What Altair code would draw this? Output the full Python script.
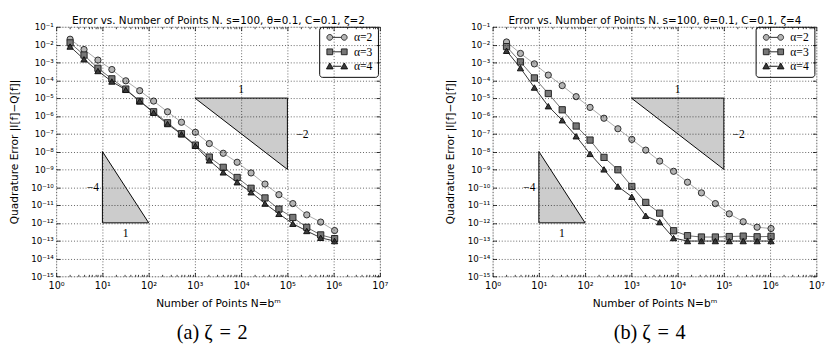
import altair as alt
import pandas as pd

# ---------------- data ----------------
N_vals = [2, 4, 8, 16, 32, 64, 128, 256, 512, 1024, 2048, 4096, 8192, 16384,
          32768, 65536, 131072, 262144, 524288, 1048576]
series_labels = ["α=2", "α=3", "α=4"]

# panel (a) zeta = 2
a2_z2 = [2.0e-2, 5.3e-3, 1.35e-3, 4.0e-4, 9.3e-5, 2.6e-5, 6.8e-6, 1.7e-6, 4.4e-7, 1.2e-7,
         2.8e-8, 8.0e-9, 2.5e-9, 6.3e-10, 1.5e-10, 3.8e-11, 1.2e-11, 2.8e-12, 1.1e-12, 3.7e-13]
a3_z2 = [1.25e-2, 2.6e-3, 4.7e-4, 1.2e-4, 3.2e-5, 6.8e-6, 1.7e-6, 4.1e-7, 1.0e-7, 2.3e-8,
         4.9e-9, 1.3e-9, 3.5e-10, 8.7e-11, 2.5e-11, 5.9e-12, 2.0e-12, 5.6e-13, 2.1e-13, 1.3e-13]
a4_z2 = [7.8e-3, 1.5e-3, 3.3e-4, 8.5e-5, 2.9e-5, 6.8e-6, 1.5e-6, 3.5e-7, 9.3e-8, 2.1e-8,
         3.2e-9, 6.8e-10, 1.9e-10, 5.2e-11, 1.2e-11, 3.2e-12, 8.9e-13, 3.5e-13, 1.45e-13, 9.5e-14]

# panel (b) zeta = 4
a2_z4 = [1.4e-2, 3.2e-3, 8.3e-4, 1.95e-4, 5.0e-5, 1.2e-5, 3.0e-6, 7.4e-7, 1.9e-7, 4.8e-8,
         1.2e-8, 2.9e-9, 7.8e-10, 1.9e-10, 4.8e-11, 1.2e-11, 3.2e-12, 1.15e-12, 5.7e-13, 4.8e-13]
a3_z4 = [7.7e-3, 1.07e-3, 1.35e-4, 1.8e-5, 2.2e-6, 2.7e-7, 4.4e-8, 4.7e-9, 9.5e-10, 1.1e-10,
         1.4e-11, 3.5e-12, 3.6e-13, 1.9e-13, 1.6e-13, 1.6e-13, 1.7e-13, 1.8e-13, 1.65e-13, 1.75e-13]
a4_z4 = [4.5e-3, 4.8e-4, 3.9e-5, 3.5e-6, 5.7e-7, 7.2e-8, 7.4e-9, 1.0e-9, 1.1e-10, 2.9e-11,
         2.5e-12, 1.1e-12, 1.4e-13, 9.5e-14, 9.5e-14, 9.5e-14, 9.5e-14, 9.5e-14, 9.5e-14, 9.5e-14]

# slope triangles (data coordinates)
tri_ids = ["big", "big", "small", "small"]
tri_x = [1e3, 1e5, 10, 100]
tri_top = [1e-5, 1e-5, 1e-8, 1e-12]
tri_bot = [1e-5, 1e-9, 1e-12, 1e-12]

slope_text = ["1", "−2", "−4", "1"]
slope_x = [1e4, 2.1e5, 6.2, 31.6]
slope_y = [3.0e-5, 1e-7, 1e-10, 2.7e-13]

# ticks
x_major = [1, 10, 100, 1e3, 1e4, 1e5, 1e6, 1e7]
x_tick_labels = ["10⁰", "10¹", "10²", "10³", "10⁴", "10⁵", "10⁶", "10⁷"]
x_minor = [k * 10 ** d for d in range(0, 7) for k in range(2, 10)]
y_major = [10.0 ** (-e) for e in range(1, 16)]
y_tick_labels = ["10⁻¹", "10⁻²", "10⁻³", "10⁻⁴", "10⁻⁵", "10⁻⁶", "10⁻⁷", "10⁻⁸",
                 "10⁻⁹", "10⁻¹⁰", "10⁻¹¹", "10⁻¹²", "10⁻¹³", "10⁻¹⁴", "10⁻¹⁵"]

headers = ["Error vs. Number of Points N. s=100, θ=0.1, C=0.1, ζ=2",
           "Error vs. Number of Points N. s=100, θ=0.1, C=0.1, ζ=4"]
captions = ["(a) ζ\u2004=\u20042", "(b) ζ\u2004=\u20044"]

# ---------------- styles ----------------
line_colors = ["#a8a8a8", "#6a6a6a", "#2e2e2e"]
fill_colors = ["#b4b4b4", "#777777", "#3a3a3a"]
edge_colors = ["#2a2a2a", "#222222", "#111111"]
shapes = ["circle", "square", "triangle-up"]


def circ(cx):
    return f"M{cx-1},0A1,1 0 1,1 {cx+1},0A1,1 0 1,1 {cx-1},0Z"


def sq(cx):
    return f"M{cx-1},-1L{cx+1},-1L{cx+1},1L{cx-1},1Z"


def tri(cx):
    return f"M{cx},-1.15L{cx+1.15},0.9L{cx-1.15},0.9Z"


legend_paths = [
    "M1,0L4,0" + circ(0) + circ(5),
    "M1,0L4,0" + sq(0) + sq(5),
    "M1,0L4,0" + tri(0) + tri(5),
]


def arr(lst):
    return "[" + ",".join('"' + s + '"' for s in lst) + "]"


x_label_expr = arr(x_tick_labels) + "[round(log(datum.value)/LN10)]"
y_label_expr = arr(y_tick_labels) + "[-round(log(datum.value)/LN10)-1]"

SANS = "DejaVu Sans"
SERIF = "Liberation Serif"


def tick_axis(orient, values, size):
    return alt.Axis(orient=orient, values=values, labels=False, ticks=True,
                    tickSize=size, offset=-size, domain=False, grid=False,
                    title=None, tickColor="black", tickWidth=0.8, zindex=1)


def make_panel(errs, header, caption, cap_dx):
    df = pd.DataFrame({
        "N": N_vals * 3,
        "err": errs[0] + errs[1] + errs[2],
        "series": [s for s in series_labels for _ in N_vals],
    })
    tri_df = pd.DataFrame({"tri": tri_ids, "x": tri_x, "top": tri_top, "bot": tri_bot})
    lab_df = pd.DataFrame({"x": slope_x, "y": slope_y, "t": slope_text})

    xs = alt.Scale(type="log", domain=[1, 1e7], nice=False)
    ys = alt.Scale(type="log", domain=[1e-15, 1e-1], nice=False)

    main_x = alt.Axis(orient="bottom", values=x_major, labelExpr=x_label_expr,
                      grid=True, gridColor="black", gridDash=[1, 2], gridOpacity=0.8,
                      gridWidth=0.8, ticks=False, domain=False, labelPadding=5,
                      labelFont=SANS, labelFontSize=10, labelColor="black",
                      labelFlush=False,
                      title="Number of Points N=bᵐ", titleFont=SANS, titleFontSize=11,
                      titleFontWeight="normal", titleColor="black", titlePadding=7,
                      zindex=1)
    main_y = alt.Axis(orient="left", values=y_major, labelExpr=y_label_expr,
                      grid=True, gridColor="black", gridDash=[1, 2], gridOpacity=0.8,
                      gridWidth=0.8, ticks=False, domain=False, labelPadding=3,
                      labelFont=SANS, labelFontSize=9, labelColor="black",
                      labelFlush=False,
                      title="Quadrature Error |I[f]−Q[f]|", titleFont=SANS,
                      titleFontSize=11, titleFontWeight="normal", titleColor="black",
                      titlePadding=12, zindex=1)
    top_x = alt.Axis(orient="top", values=x_major, labels=False, ticks=True,
                     tickSize=4, offset=-4, domain=False, grid=False,
                     tickColor="black", tickWidth=0.8, zindex=1,
                     title=header, titleFont=SANS, titleFontSize=10.8,
                     titleFontWeight="normal", titleColor="black", titlePadding=1)

    tri_layer = alt.Chart(tri_df).mark_area(
        fill="#cccccc", stroke="black", strokeWidth=1, opacity=1
    ).encode(
        x=alt.X("x:Q", scale=xs, axis=main_x),
        y=alt.Y("top:Q", scale=ys, axis=main_y),
        y2="bot:Q",
        detail="tri:N",
    )

    line_layer = alt.Chart(df).mark_line(strokeWidth=1).encode(
        x=alt.X("N:Q", scale=xs, axis=tick_axis("bottom", x_major, 4)),
        y=alt.Y("err:Q", scale=ys, axis=tick_axis("left", y_major, 4)),
        stroke=alt.Stroke("series:N", scale=alt.Scale(domain=series_labels, range=line_colors),
                          legend=None),
    )

    pt_layer = alt.Chart(df).mark_point(
        filled=True, size=42, opacity=1, strokeWidth=1
    ).encode(
        x=alt.X("N:Q", scale=xs, axis=tick_axis("bottom", x_minor, 2)),
        y=alt.Y("err:Q", scale=ys, axis=tick_axis("right", y_major, 4)),
        shape=alt.Shape("series:N", scale=alt.Scale(domain=series_labels, range=shapes),
                        legend=None),
        fill=alt.Fill("series:N", scale=alt.Scale(domain=series_labels, range=fill_colors),
                      legend=None),
        stroke=alt.Stroke("series:N", scale=alt.Scale(domain=series_labels, range=edge_colors),
                          legend=None),
    )

    txt_layer = alt.Chart(lab_df).mark_text(
        font=SERIF, fontSize=12, color="black"
    ).encode(
        x=alt.X("x:Q", scale=xs, axis=top_x),
        y=alt.Y("y:Q", scale=ys, axis=None),
        text="t:N",
    )

    leg = alt.Legend(title=None, orient="none", legendX=273, legendY=0,
                     fillColor="white", strokeColor="black", cornerRadius=3, padding=5,
                     labelFont=SERIF, labelFontSize=12, labelColor="black",
                     symbolSize=36, symbolStrokeWidth=1,
                     symbolOpacity=1, labelOffset=19, rowPadding=3)
    leg_layer = alt.Chart(df).transform_filter("false").mark_point(
        filled=True, size=36, opacity=1, strokeWidth=1
    ).encode(
        x=alt.X("N:Q", scale=xs, axis=tick_axis("top", x_minor, 2)),
        y=alt.Y("err:Q", scale=ys, axis=None),
        shape=alt.Shape("series:N", scale=alt.Scale(domain=series_labels, range=legend_paths),
                        legend=leg),
        fill=alt.Fill("series:N", scale=alt.Scale(domain=series_labels, range=fill_colors),
                      legend=leg),
        stroke=alt.Stroke("series:N", scale=alt.Scale(domain=series_labels, range=edge_colors),
                          legend=leg),
    )

    return alt.layer(tri_layer, line_layer, pt_layer, txt_layer, leg_layer).resolve_scale(
        shape="independent", fill="independent", stroke="independent"
    ).resolve_axis(
        x="independent", y="independent"
    ).properties(
        width=336, height=259,
        title=alt.TitleParams(caption, orient="bottom", font=SERIF, fontSize=21,
                              fontWeight="normal", color="black", anchor="middle",
                              frame="group", offset=15, dx=cap_dx),
    )


left = make_panel([a2_z2, a3_z2, a4_z2], headers[0], captions[0], -6)
right = make_panel([a2_z4, a3_z4, a4_z4], headers[1], captions[1], -5)

chart = alt.hconcat(left, right, spacing=58).properties(
    padding={"left": 0, "top": 0, "right": 0, "bottom": 0}
).configure_view(stroke="black", strokeWidth=1).configure(background="white")

chart.save("out.html", embed_options={"renderer": "svg", "actions": False})
